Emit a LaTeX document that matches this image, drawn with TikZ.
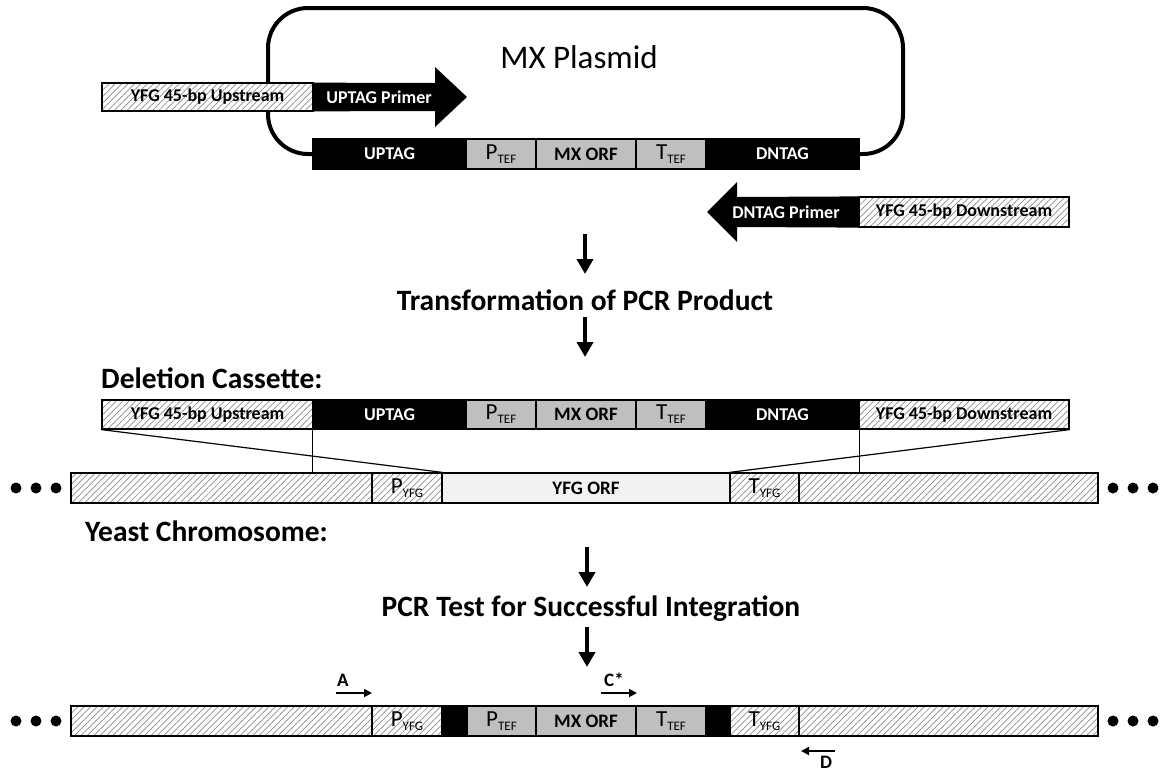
\documentclass[tikz,border=0pt]{standalone}
\usepackage{fontspec}
\setmainfont{Carlito}
\usepackage{tikz}
\usetikzlibrary{arrows.meta}
\usetikzlibrary{patterns.meta}
\definecolor{boxgray}{HTML}{BFBFBF}
\definecolor{orfgray}{HTML}{F2F2F2}
\definecolor{hatchgray}{HTML}{8C8C8C}
\newcommand{\barfont}{\fontsize{18}{20}\selectfont\bfseries}
\newcommand{\orffont}{\fontsize{19}{21}\selectfont\bfseries}
\newcommand{\headfont}{\fontsize{29.5}{32}\selectfont\bfseries}
\newcommand{\sublab}[2]{{\mdseries\fontsize{23}{24}\selectfont #1}\raisebox{-4pt}{\mdseries\fontsize{13}{14}\selectfont #2}}
\tikzset{
  seg/.style={draw=black, line width=1.2pt, inner sep=0pt, minimum height=30pt},
  tagseg/.style={seg, fill=black, text=white, font=\barfont},
  grayseg/.style={seg, fill=boxgray},
  hatchseg/.style={seg, preaction={fill=white}, pattern={Lines[angle=45,distance=4.5pt,line width=0.7pt]}, pattern color=hatchgray, font=\barfont},
  orfseg/.style={seg, fill=orfgray, font=\orffont},
  bigarrow/.style={line width=4pt, -{Triangle[length=15pt,width=16pt]}},
  smallarrow/.style={line width=1.8pt, -{Triangle[length=8pt,width=8pt]}},
  chromdot/.style={circle, fill=black, inner sep=0pt, minimum size=11pt},
  hdr/.style={font=\headfont, inner sep=0pt},
  primerlab/.style={text=white, font=\barfont},
  letterlab/.style={font=\fontsize{19}{20}\selectfont\bfseries, inner sep=0pt},
}

\begin{document}
\begin{tikzpicture}[x=1pt, y=-1pt]
\useasboundingbox (0,0) rectangle (1165,772);
%
\node[font=\fontsize{33}{36}\selectfont] (plasmid) at (579,57) {MX Plasmid};
\coordinate (plL) at (268,154);
\coordinate (plR) at (903,154);
\draw[line width=4pt, rounded corners=40pt] (313,154) -- (plL) -- (268,8) -- (903,8) -- (plR) -- (859,154);
%
\node[tagseg, minimum width=153pt] (pUp) at (389.5,154) {UPTAG};
\node[grayseg, minimum width=70pt] (pP) at (501,154) {\sublab{P}{TEF}};
\node[grayseg, minimum width=100pt, font=\orffont] (pMX) at (586,154) {MX ORF};
\node[grayseg, minimum width=70pt] (pT) at (671,154) {\sublab{T}{TEF}};
\node[tagseg, minimum width=153pt] (pDn) at (782.5,154) {DNTAG};
%
\node[hatchseg, minimum width=211pt, minimum height=28pt] (upHatch) at (207.5,97) {YFG 45-bp Upstream};
\fill (upHatch.north east) -- (435,83) -- (435,67) -- (467,97) -- (435,127) -- (435,111) -- (upHatch.south east) -- cycle;
\node[primerlab] (upPrimer) at (379,97) {UPTAG Primer};
%
\node[hatchseg, minimum width=210pt] (dnHatch) at (964,212) {YFG 45-bp Downstream};
\fill (dnHatch.north west) -- (737,197) -- (737,182) -- (707,212) -- (737,242) -- (737,227) -- (dnHatch.south west) -- cycle;
\node[primerlab] (dnPrimer) at (786,212) {DNTAG Primer};
%
\coordinate (a1s) at (585,234);
\coordinate (a1e) at (585,274);
\draw[bigarrow] (a1s) -- (a1e);
\node[hdr] (transHdr) at (585,300) {Transformation of PCR Product};
\coordinate (a2s) at (585,317);
\coordinate (a2e) at (585,357);
\draw[bigarrow] (a2s) -- (a2e);
%
\node[hdr, anchor=west] (delHdr) at (101,378) {Deletion Cassette:};
\node[hatchseg, minimum width=211pt, minimum height=29pt] (cUpH) at (207.5,414.5) {YFG 45-bp Upstream};
\node[tagseg, minimum width=153pt, minimum height=29pt] (cUp) at (389.5,414.5) {UPTAG};
\node[grayseg, minimum width=70pt, minimum height=29pt] (cP) at (501,414.5) {\sublab{P}{TEF}};
\node[grayseg, minimum width=100pt, minimum height=29pt, font=\orffont] (cMX) at (586,414.5) {MX ORF};
\node[grayseg, minimum width=70pt, minimum height=29pt] (cT) at (671,414.5) {\sublab{T}{TEF}};
\node[tagseg, minimum width=153pt, minimum height=29pt] (cDn) at (782.5,414.5) {DNTAG};
\node[hatchseg, minimum width=210pt, minimum height=29pt] (cDnH) at (964,414.5) {YFG 45-bp Downstream};
%
\node[chromdot] (chd1) at (16,488) {};
\node[chromdot] (chd2) at (36,488) {};
\node[chromdot] (chd3) at (56,488) {};
\node[hatchseg, minimum width=301pt] (chL) at (221.5,488) {};
\node[hatchseg, minimum width=70pt] (chP) at (407,488) {\sublab{P}{YFG}};
\node[orfseg, minimum width=288pt] (chORF) at (586,488) {YFG ORF};
\node[hatchseg, minimum width=69pt] (chT) at (764.5,488) {\sublab{T}{YFG}};
\node[hatchseg, minimum width=299pt] (chR) at (948.5,488) {};
\node[chromdot] (chd4) at (1113,488) {};
\node[chromdot] (chd5) at (1133,488) {};
\node[chromdot] (chd6) at (1153,488) {};
%
\draw[line width=1.2pt] (cUpH.south west) -- (chP.north east);
\draw[line width=1.2pt] (cUp.south west) -- (cUp.south west |- chL.north);
\draw[line width=1.2pt] (cDnH.south east) -- (chT.north west);
\draw[line width=1.2pt] (cDn.south east) -- (cDn.south east |- chR.north);
\node[hdr, anchor=west] (yeastHdr) at (85,531) {Yeast Chromosome:};
%
\coordinate (a3s) at (587,547);
\coordinate (a3e) at (587,587);
\draw[bigarrow] (a3s) -- (a3e);
\node[hdr] (pcrHdr) at (591,609) {PCR Test for Successful Integration};
\coordinate (a4s) at (587,627);
\coordinate (a4e) at (587,667);
\draw[bigarrow] (a4s) -- (a4e);
%
\node[chromdot] (bd1) at (16,721) {};
\node[chromdot] (bd2) at (36,721) {};
\node[chromdot] (bd3) at (56,721) {};
\node[hatchseg, minimum width=301pt] (bL) at (221.5,721) {};
\node[hatchseg, minimum width=70pt] (bP) at (407,721) {\sublab{P}{YFG}};
\node[tagseg, minimum width=25pt] (bBk1) at (454.5,721) {};
\node[grayseg, minimum width=69pt] (bPT) at (501.5,721) {\sublab{P}{TEF}};
\node[grayseg, minimum width=100pt, font=\orffont] (bMX) at (586,721) {MX ORF};
\node[grayseg, minimum width=70pt] (bTT) at (671,721) {\sublab{T}{TEF}};
\node[tagseg, minimum width=24pt] (bBk2) at (718,721) {};
\node[hatchseg, minimum width=69pt] (bT) at (764.5,721) {\sublab{T}{YFG}};
\node[hatchseg, minimum width=299pt] (bR) at (948.5,721) {};
\node[chromdot] (bd4) at (1113,721) {};
\node[chromdot] (bd5) at (1133,721) {};
\node[chromdot] (bd6) at (1153,721) {};
%
\coordinate (pAs) at (336,693);
\coordinate (pAe) at (372,693);
\draw[smallarrow] (pAs) -- (pAe);
\node[letterlab] (labA) at (343,680) {A};
\coordinate (pCs) at (601,693);
\coordinate (pCe) at (637,693);
\draw[smallarrow] (pCs) -- (pCe);
\node[letterlab] (labC) at (614,680) {C*};
\coordinate (pDs) at (835,751);
\coordinate (pDe) at (801,751);
\draw[smallarrow] (pDs) -- (pDe);
\node[letterlab] (labD) at (826,762) {D};
\end{tikzpicture}
\end{document}
